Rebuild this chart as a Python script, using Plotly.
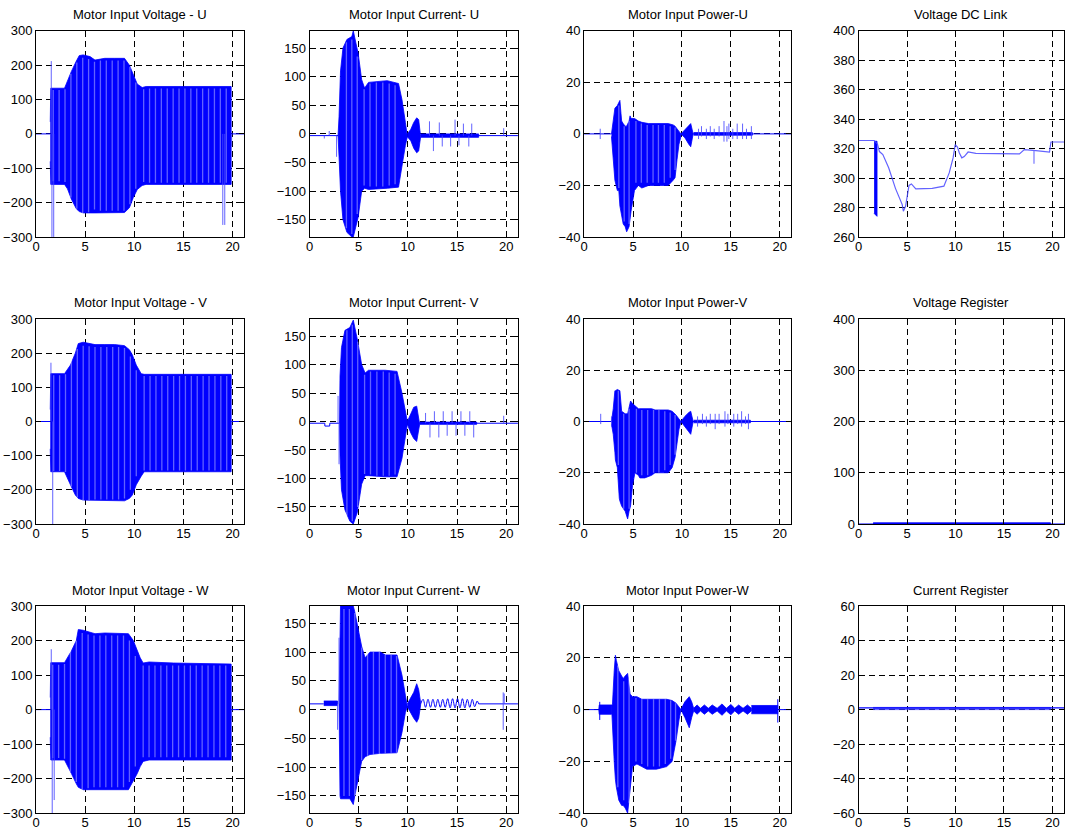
import plotly.graph_objects as go

W, H = 1067, 837
BLUE = "rgb(0,0,255)"
LIGHT = "rgba(70,70,255,0.85)"
GAPC = "rgba(255,255,255,0.38)"
FONT = "Liberation Sans, Arial, Helvetica, sans-serif"

# ---------------- panel meta ----------------
TITLES = ["Motor Input Voltage - U", "Motor Input Current- U", "Motor Input Power-U", "Voltage DC Link",
          "Motor Input Voltage - V", "Motor Input Current- V", "Motor Input Power-V", "Voltage Register",
          "Motor Input Voltage - W", "Motor Input Current- W", "Motor Input Power-W", "Current Register"]
X_RANGE = [0, 21.2]
X_TICKS = [0, 5, 10, 15, 20]
V_RANGE = [-300, 300]; V_TICKS = [-300, -200, -100, 0, 100, 200, 300]
I_RANGE = [-180, 180]; I_TICKS = [-150, -100, -50, 0, 50, 100, 150]
P_RANGE = [-40, 40];   P_TICKS = [-40, -20, 0, 20, 40]
DC_RANGE = [260, 400]; DC_TICKS = [260, 280, 300, 320, 340, 360, 380, 400]
VR_RANGE = [0, 400];   VR_TICKS = [0, 100, 200, 300, 400]
CR_RANGE = [-60, 60];  CR_TICKS = [-60, -40, -20, 0, 20, 40, 60]

# ---------------- Voltage U ----------------
VU_BASE_T = [0, 1.45, None, 19.85, 21.2]
VU_BASE_Y = [0, 0, None, 0, 0]
VU_T = [1.45, 1.5, 2.9, 3.2, 3.6, 4.1, 4.4, 4.8, 5.5, 6.0, 7.0, 8.0, 9.0, 9.5, 9.9, 10.3, 10.8, 11.2, 15.0, 19.85]
VU_HI = [35, 133, 133, 155, 182, 212, 228, 230, 225, 215, 220, 220, 220, 200, 170, 145, 135, 138, 138, 138]
VU_LO = [-80, -147, -147, -160, -190, -218, -226, -230, -230, -230, -230, -230, -229, -215, -185, -162, -150, -147, -147, -147]
VU_SPK_T = [1.55, 1.62, 1.8, 19.0, 19.2, 19.9]
VU_SPK_LO = [0, -300, -300, -265, -265, -35]
VU_SPK_HI = [212, 0, 0, 0, 0, 0]
VU_GAP_T = [1.75, 2.35, 2.95, 3.55, 4.15, 4.75, 5.35, 5.95, 6.55, 7.15, 7.75, 8.35, 8.95, 9.55, 10.15,
            10.95, 11.55, 12.15, 12.75, 13.35, 13.95, 14.55, 15.15, 15.75, 16.35, 16.95, 17.55, 18.15, 18.75, 19.35]
VU_GAP_H = [128, 128, 130, 175, 208, 222, 218, 210, 214, 214, 214, 214, 214, 195, 150,
            130, 132, 132, 132, 132, 132, 132, 132, 132, 132, 132, 132, 132, 132, 132]

# ---------------- Voltage V ----------------
VV_BASE_T = [0, 1.45, None, 19.85, 21.2]
VV_BASE_Y = [0, 0, None, 0, 0]
VV_T = [1.45, 1.5, 2.9, 3.5, 4.0, 4.3, 4.8, 5.5, 6.0, 7.0, 8.0, 9.0, 9.5, 9.8, 10.2, 10.7, 11.0, 13.0, 19.85]
VV_HI = [35, 140, 140, 165, 200, 228, 232, 228, 225, 225, 225, 222, 210, 195, 165, 140, 138, 138, 138]
VV_LO = [-80, -147, -147, -185, -215, -225, -230, -230, -230, -230, -232, -232, -225, -215, -185, -160, -147, -147, -147]
VV_SPK_T = [1.52, 1.7, 19.9]
VV_SPK_LO = [0, -300, -28]
VV_SPK_HI = [172, 0, 0]
VV_GAP_T = [1.8, 2.4, 3.0, 3.6, 4.2, 4.8, 5.4, 6.0, 6.6, 7.2, 7.8, 8.4, 9.0, 9.6, 10.2,
            11.0, 11.6, 12.2, 12.8, 13.4, 14.0, 14.6, 15.2, 15.8, 16.4, 17.0, 17.6, 18.2, 18.8, 19.4]
VV_GAP_H = [135, 135, 138, 180, 212, 222, 220, 218, 218, 218, 218, 218, 215, 190, 150,
            133, 133, 133, 133, 133, 133, 133, 133, 133, 133, 133, 133, 133, 133, 133]

# ---------------- Voltage W ----------------
VW_BASE_T = [0, 1.45, None, 19.85, 21.2]
VW_BASE_Y = [0, 0, None, 0, 0]
VW_T = [1.45, 1.5, 2.9, 3.6, 4.1, 4.3, 4.8, 6.0, 7.0, 8.0, 9.0, 9.4, 9.9, 10.3, 10.6, 10.9, 11.5, 14.0, 19.85]
VW_HI = [35, 136, 136, 170, 200, 232, 230, 220, 222, 222, 222, 220, 200, 170, 150, 135, 138, 135, 132]
VW_LO = [-80, -146, -146, -185, -215, -225, -232, -232, -232, -232, -232, -232, -205, -185, -165, -150, -146, -146, -146]
VW_SPK_T = [1.55, 1.65, 1.85, 19.9]
VW_SPK_LO = [0, -300, -262, -30]
VW_SPK_HI = [175, 0, 0, 0]
VW_GAP_T = [1.7, 2.3, 2.9, 3.5, 4.1, 4.7, 5.3, 5.9, 6.5, 7.1, 7.7, 8.3, 8.9, 9.5, 10.1,
            10.9, 11.5, 12.1, 12.7, 13.3, 13.9, 14.5, 15.1, 15.7, 16.3, 16.9, 17.5, 18.1, 18.7, 19.3]
VW_GAP_H = [130, 130, 132, 170, 200, 222, 218, 215, 215, 215, 215, 215, 215, 200, 155,
            128, 128, 128, 128, 128, 128, 128, 128, 128, 128, 128, 128, 128, 128, 128]

# ---------------- Current U ----------------
IU_BASE_T = [0, 2.9, None, 11.3, 21.2]
IU_BASE_Y = [-3, -3, None, -3, -3]
IU_T = [2.9, 3.0, 3.15, 3.4, 3.8, 4.3, 4.45, 4.95, 5.3, 5.6, 6.0, 7.9, 9.05, 9.4, 9.75, 9.95]
IU_HI = [-3, 30, 110, 150, 165, 170, 180, 140, 95, 80, 90, 93, 88, 60, 20, 0]
IU_LO = [-3, -40, -100, -150, -172, -180, -180, -145, -100, -95, -97, -95, -93, -60, -20, -5]
IU_B_T = [9.95, 10.3, 10.6, 10.9, 11.1, 11.3]
IU_B_HI = [0, 8, 20, 28, 25, -2]
IU_B_LO = [-5, -12, -25, -33, -30, -5]
IU_N_T = [11.3, 17.2]
IU_N_HI = [0, 0]
IU_N_LO = [-6, -6]
IU_SPK_T = [1.5, 2.0, 2.75, 12.2, 12.6, 13.2, 13.5, 14.35, 14.8, 15.2, 15.65, 16.2, 16.5, 19.75]
IU_SPK_LO = [-8, -3, -40, -3, -30, -3, -22, -22, -3, -20, -3, -22, -3, -3]
IU_SPK_HI = [-3, 5, -3, 22, -3, 20, -3, -3, 25, -3, 18, -3, 18, 10]
IU_GAP_T = [3.75, 4.3, 4.85, 5.55, 6.15, 6.8, 7.45, 8.1, 8.7]
IU_GAP_LO = [-165, -175, -140, -90, -92, -92, -92, -90, -88]
IU_GAP_HI = [160, 165, 135, 78, 88, 90, 90, 88, 85]

# ---------------- Current V ----------------
IV_BASE_T = [0, 1.55, 1.56, 2.05, 2.06, 3.05, None, 11.2, 21.2]
IV_BASE_Y = [-3, -3, -8, -8, -3, -3, None, -3, -3]
IV_T = [3.05, 3.1, 3.25, 3.6, 4.1, 4.45, 4.85, 5.3, 5.65, 6.0, 7.7, 8.9, 9.4, 9.75, 9.95]
IV_HI = [-3, 80, 130, 160, 165, 178, 145, 100, 85, 90, 90, 88, 50, 20, 0]
IV_LO = [-3, -60, -120, -155, -175, -180, -160, -110, -95, -95, -97, -97, -65, -25, -5]
IV_B_T = [9.95, 10.3, 10.6, 10.9, 11.2]
IV_B_HI = [0, 15, 25, 27, -2]
IV_B_LO = [-5, -20, -30, -35, -5]
IV_N_T = [11.2, 17.0]
IV_N_HI = [-1, -1]
IV_N_LO = [-5, -5]
IV_SPK_T = [2.9, 3.0, 11.8, 12.25, 12.7, 13.15, 13.6, 14.0, 14.5, 14.9, 15.4, 15.8, 16.3, 16.7, 19.75]
IV_SPK_LO = [-3, -75, -3, -28, -3, -28, -3, -25, -3, -25, -3, -25, -3, -28, -3]
IV_SPK_HI = [45, -3, 15, -3, 18, -3, 18, -3, 18, -3, 18, -3, 18, -3, 10]
IV_GAP_T = [3.8, 4.35, 4.9, 5.6, 6.2, 6.85, 7.5, 8.1, 8.7]
IV_GAP_LO = [-165, -175, -150, -92, -93, -95, -95, -95, -93]
IV_GAP_HI = [160, 170, 140, 82, 88, 88, 88, 86, 84]

# ---------------- Current W ----------------
IW_BASE_T = [0, 1.45, None, 17.2, 21.2]
IW_BASE_Y = [10, 10, None, 10, 10]
IW_PRE_T = [1.45, 2.85]
IW_PRE_HI = [15, 15]
IW_PRE_LO = [7, 7]
IW_T = [3.0, 3.1, 3.15, 4.1, 4.45, 4.6, 4.85, 5.3, 5.65, 6.15, 7.2, 7.7, 8.9, 9.4, 9.75, 9.95]
IW_HI = [10, 130, 180, 180, 180, 170, 150, 110, 90, 100, 100, 95, 95, 60, 25, 10]
IW_LO = [10, -150, -155, -155, -165, -150, -125, -90, -82, -78, -76, -75, -75, -40, -5, 5]
IW_B_T = [9.95, 10.3, 10.6, 10.9, 11.1, 11.3]
IW_B_HI = [10, 20, 30, 45, 35, 12]
IW_B_LO = [5, -5, -15, -22, -15, 8]
IW_RIP_T = [11.3, 11.55, 11.8, 12.05, 12.3, 12.55, 12.8, 13.05, 13.3, 13.55, 13.8, 14.05, 14.3,
            14.55, 14.8, 15.05, 15.3, 15.55, 15.8, 16.05, 16.3, 16.55, 16.8, 17.05, 17.2]
IW_RIP_Y = [10, 18, 4, 18, 4, 18, 4, 18, 4, 18, 4, 19, 3, 19, 3, 19, 3, 19, 3, 18, 4, 18, 5, 15, 10]
IW_SPK_T = [2.85, 3.0, 19.7, 19.8]
IW_SPK_LO = [-35, 10, -35, 10]
IW_SPK_HI = [10, 125, 30, 28]
IW_GAP_T = [3.5, 4.05, 4.6, 5.3, 5.9, 6.5, 7.1, 7.7, 8.3, 8.85]
IW_GAP_LO = [-150, -150, -150, -88, -80, -78, -77, -76, -75, -75]
IW_GAP_HI = [175, 175, 168, 108, 98, 100, 100, 95, 95, 93]

# ---------------- Power U ----------------
PU_BASE_T = [0, 2.8, None, 9.9, 21.2]
PU_BASE_Y = [0, 0, None, 0, 0]
PU_T = [2.8, 2.98, 3.15, 3.4, 3.55, 3.66, 3.77, 3.84, 4.0, 4.2, 4.35, 4.6, 4.7, 4.8, 5.15, 5.55,
        5.9, 6.6, 8.6, 9.1, 9.3, 9.5, 9.7, 9.9]
PU_HI = [0, 5, 10, 11, 12, 13, 8, 5, 4, 3, 3, 5, 7, 6, 6, 5, 4.5, 4, 4, 3.5, 3, 2, 1, 0]
PU_LO = [-1, -10, -18, -22, -22, -28, -30, -32, -35, -36, -38, -36, -33, -30, -22, -20, -21, -20,
         -20, -18, -17, -10, -4, -1]
PU_B_T = [9.9, 10.3, 10.7, 10.9, 11.15]
PU_B_HI = [0, 1.5, 3, 4, 0]
PU_B_LO = [0, -1.5, -4, -5, 0]
PU_N_T = [11.2, 17.2]
PU_N_HI = [0.5, 0.5]
PU_N_LO = [-0.5, -0.5]
PU_SPK_T = [1.65, 11.7, 12.0, 12.5, 12.9, 13.3, 13.8, 14.3, 14.6, 14.8, 15.2, 15.65, 16.2, 16.6, 17.1]
PU_SPK_LO = [-2, -2, -1, -2, -1, -2, -1, -3, -3, -2, -2, -2, -2, -2, -2]
PU_SPK_HI = [2, 2, 3, 2, 3, 2, 3, 5, 3, 4, 2, 4, 4, 2, 3]
PU_GAP_T = [3.55, 4.1, 4.6, 5.3, 5.85, 6.45, 7.05, 7.6, 8.2, 8.8, 9.3]
PU_GAP_LO = [-21, -34, -35, -19, -19, -19, -19, -19, -19, -17, -14]
PU_GAP_HI = [11, 3, 5, 5, 4, 3.5, 3.5, 3.5, 3.5, 3, 2.5]

# ---------------- Power V ----------------
PV_BASE_T = [0, 2.8, None, 9.9, 21.2]
PV_BASE_Y = [0, 0, None, 0, 0]
PV_T = [2.8, 2.98, 3.15, 3.2, 3.4, 3.6, 3.66, 3.84, 4.2, 4.45, 4.6, 4.75, 4.95, 5.2, 5.55, 5.7,
        6.2, 6.9, 7.25, 8.6, 9.0, 9.3, 9.4, 9.7, 9.9]
PV_HI = [0, 5, 12, 12, 12.5, 12, 12, 4, 3, 3, 6, 8, 7, 6, 5, 5, 5, 5, 4.5, 4.5, 4, 3, 2.5, 1, 0]
PV_LO = [-1, -5, -12, -15, -18, -30, -31, -33, -35, -38, -35, -33, -25, -20, -21, -22, -22, -21,
         -20, -20, -18, -14, -10, -3, 0]
PV_B_T = [9.9, 10.3, 10.7, 10.9, 11.15]
PV_B_HI = [0, 2, 3.5, 4, 0]
PV_B_LO = [0, -2, -4, -5, 0]
PV_N_T = [11.2, 17.0]
PV_N_HI = [0.5, 0.5]
PV_N_LO = [-0.5, -0.5]
PV_SPK_T = [1.7, 2.8, 11.6, 12.1, 12.5, 12.9, 13.4, 13.8, 14.4, 14.7, 15.3, 15.7, 16.1, 16.5, 16.8]
PV_SPK_LO = [-1, -2, -2, -1, -2, -1, -3, -1, -2, -1, -2, -1, -2, -1, -3]
PV_SPK_HI = [3, 2, 2, 3, 2, 3, 3, 3, 4, 3, 3, 3, 4, 2, 3]
PV_GAP_T = [3.5, 4.05, 4.6, 5.35, 5.9, 6.5, 7.1, 7.65, 8.25, 8.8, 9.3]
PV_GAP_LO = [-17, -34, -34, -20, -21, -21, -20, -20, -19, -17, -13]
PV_GAP_HI = [12, 3, 5, 5, 4.5, 4.5, 4.5, 4.5, 4, 3.5, 2.5]

# ---------------- Power W ----------------
PW_BASE_T = [0, 1.5, None, 19.85, 21.2]
PW_BASE_Y = [0, 0, None, 0, 0]
PW_PRE_T = [1.5, 1.55, 2.85]
PW_PRE_HI = [0, 1.8, 1.8]
PW_PRE_LO = [0, -1.8, -1.8]
PW_T = [2.85, 2.9, 3.08, 3.2, 3.3, 3.55, 3.84, 4.0, 4.2, 4.45, 4.7, 4.95, 5.4, 5.9, 6.4, 7.4, 8.45,
        9.0, 9.4, 9.7, 9.9]
PW_HI = [2, 2, 15, 21, 19, 15, 13, 12, 13, 14, 6, 5, 5, 4, 4, 4, 4, 3.5, 2.5, 1, 0]
PW_LO = [-2, -3, -20, -27, -30, -35, -37, -37, -38, -40, -30, -22, -21, -22, -23, -23, -22, -20,
         -12, -4, 0]
PW_B_T = [9.9, 10.3, 10.75, 11.0, 11.2]
PW_B_HI = [0, 3, 5, 3, 0.5]
PW_B_LO = [0, -3, -7, -3, -0.5]
PW_BD_T = [11.2, 11.55, 11.9, 12.3, 12.7, 13.1, 13.6, 14.1, 14.55, 15.0, 15.4, 15.8, 16.25, 16.7, 17.1]
PW_BD_HI = [0.5, 1.8, 0.5, 1.8, 0.5, 1.8, 0.5, 2.2, 0.5, 2.0, 0.5, 1.8, 0.5, 1.8, 0.5]
PW_BD_LO = [-0.5, -1.8, -0.5, -1.8, -0.5, -1.8, -0.5, -2.2, -0.5, -2.0, -0.5, -1.8, -0.5, -1.8, -0.5]
PW_TAIL_T = [17.1, 19.8]
PW_TAIL_HI = [1.6, 1.6]
PW_TAIL_LO = [-1.6, -1.6]
PW_SPK_T = [1.6, 19.8]
PW_SPK_LO = [-4, -5]
PW_SPK_HI = [3, 4]
PW_GAP_T = [3.45, 4.05, 4.6, 5.3, 5.9, 6.5, 7.1, 7.7, 8.3, 8.85, 9.35]
PW_GAP_LO = [-30, -35, -36, -20, -21, -22, -22, -22, -21, -19, -12]
PW_GAP_HI = [17, 11, 12, 4.5, 4, 4, 4, 4, 4, 3.5, 2.5]

# ---------------- DC link ----------------
DC_T = [0, 1.6, 1.95, 2.15, 2.5, 3.1, 3.8, 4.5, 4.62, 4.85, 5.2, 5.45, 5.9, 7.6, 8.8, 9.35, 9.75,
        9.97, 10.2, 10.4, 10.65, 10.9, 11.3, 12.1, 16.6, 17.1, 18.3, 19.7, 19.85, 21.2]
DC_Y = [325.5, 325.5, 323, 318, 316, 307, 293, 282, 277.5, 281, 295, 296, 292.6, 293, 294.5, 303.5,
        313.7, 322.7, 321, 317, 313.7, 314.6, 317.7, 316.8, 316.4, 319.3, 318.6, 317.7, 324.5, 324.5]
DC_BAR_T = [1.6, 1.9]
DC_BAR_HI = [325, 325]
DC_BAR_LO = [276, 274]
DC_SPK_T = [18.1]
DC_SPK_LO = [309.8]
DC_SPK_HI = [318.5]

# ---------------- Registers ----------------
VR_T = [0, 21.2]
VR_Y = [0, 0]
VR_N_T = [1.5, 19.8]
VR_N_HI = [2.5, 2.5]
VR_N_LO = [0, 0]
CR_T = [0, 21.2]
CR_Y = [1, 1]
CR_N_T = [1.5, 19.8]
CR_N_HI = [1.3, 1.3]
CR_N_LO = [0, 0]

# ---------------- layout geometry (target picture pixels) ----------------
COL_PX = [(36, 244), (309, 517), (583, 790), (857, 1062)]
ROW_PX = [(30, 236), (318, 523), (605, 812)]
# measured mapping page-pixel -> photographed-pixel (p = s * page + o)
SX, OX = 0.9943, 4.05
SY, OY = 0.9817, 6.15

fig = go.Figure()


def ax(i):
    return ("x" if i == 0 else f"x{i+1}"), ("y" if i == 0 else f"y{i+1}")


def add_line(i, t, y, color=BLUE, width=1.0, shape="linear"):
    xa, ya = ax(i)
    fig.add_trace(go.Scatter(x=t, y=y, mode="lines", line=dict(color=color, width=width, shape=shape),
                             xaxis=xa, yaxis=ya, hoverinfo="skip", connectgaps=False))


def add_band(i, t, hi, lo, color=BLUE):
    xa, ya = ax(i)
    x = list(t) + list(t)[::-1]
    y = list(hi) + list(lo)[::-1]
    fig.add_trace(go.Scatter(x=x, y=y, mode="lines", fill="toself", fillcolor=color,
                             line=dict(color=color, width=0.8), xaxis=xa, yaxis=ya, hoverinfo="skip"))


def add_spikes(i, t, lo, hi, color=BLUE, width=1.0):
    xa, ya = ax(i)
    xs, ys = [], []
    for tt, a, b in zip(t, lo, hi):
        xs += [tt, tt, None]
        ys += [a, b, None]
    fig.add_trace(go.Scatter(x=xs, y=ys, mode="lines", line=dict(color=color, width=width),
                             xaxis=xa, yaxis=ya, hoverinfo="skip"))


def add_gaps(i, t, lo, hi):
    add_spikes(i, t, lo, hi, color=GAPC, width=1.3)


# Voltage panels
for i, (bt, by, T, HI, LO, st, slo, shi, gt, gh) in {
    0: (VU_BASE_T, VU_BASE_Y, VU_T, VU_HI, VU_LO, VU_SPK_T, VU_SPK_LO, VU_SPK_HI, VU_GAP_T, VU_GAP_H),
    4: (VV_BASE_T, VV_BASE_Y, VV_T, VV_HI, VV_LO, VV_SPK_T, VV_SPK_LO, VV_SPK_HI, VV_GAP_T, VV_GAP_H),
    8: (VW_BASE_T, VW_BASE_Y, VW_T, VW_HI, VW_LO, VW_SPK_T, VW_SPK_LO, VW_SPK_HI, VW_GAP_T, VW_GAP_H),
}.items():
    add_line(i, bt, by)
    add_band(i, T, HI, LO)
    add_gaps(i, gt, [-h - 10 for h in gh], gh)
    add_spikes(i, st, slo, shi, color=LIGHT)

# Current U
add_line(1, IU_BASE_T, IU_BASE_Y)
add_band(1, IU_N_T, IU_N_HI, IU_N_LO)
add_band(1, IU_T, IU_HI, IU_LO)
add_band(1, IU_B_T, IU_B_HI, IU_B_LO)
add_gaps(1, IU_GAP_T, IU_GAP_LO, IU_GAP_HI)
add_spikes(1, IU_SPK_T, IU_SPK_LO, IU_SPK_HI, color=LIGHT)

# Current V
add_line(5, IV_BASE_T, IV_BASE_Y)
add_band(5, IV_N_T, IV_N_HI, IV_N_LO)
add_band(5, IV_T, IV_HI, IV_LO)
add_band(5, IV_B_T, IV_B_HI, IV_B_LO)
add_gaps(5, IV_GAP_T, IV_GAP_LO, IV_GAP_HI)
add_spikes(5, IV_SPK_T, IV_SPK_LO, IV_SPK_HI, color=LIGHT)

# Current W
add_line(9, IW_BASE_T, IW_BASE_Y)
add_band(9, IW_PRE_T, IW_PRE_HI, IW_PRE_LO)
add_band(9, IW_T, IW_HI, IW_LO)
add_band(9, IW_B_T, IW_B_HI, IW_B_LO)
add_line(9, IW_RIP_T, IW_RIP_Y, shape="spline")
add_gaps(9, IW_GAP_T, IW_GAP_LO, IW_GAP_HI)
add_spikes(9, IW_SPK_T, IW_SPK_LO, IW_SPK_HI, color=LIGHT)

# Power U
add_line(2, PU_BASE_T, PU_BASE_Y)
add_band(2, PU_N_T, PU_N_HI, PU_N_LO)
add_band(2, PU_T, PU_HI, PU_LO)
add_band(2, PU_B_T, PU_B_HI, PU_B_LO)
add_gaps(2, PU_GAP_T, PU_GAP_LO, PU_GAP_HI)
add_spikes(2, PU_SPK_T, PU_SPK_LO, PU_SPK_HI, color=LIGHT)

# Power V
add_line(6, PV_BASE_T, PV_BASE_Y)
add_band(6, PV_N_T, PV_N_HI, PV_N_LO)
add_band(6, PV_T, PV_HI, PV_LO)
add_band(6, PV_B_T, PV_B_HI, PV_B_LO)
add_gaps(6, PV_GAP_T, PV_GAP_LO, PV_GAP_HI)
add_spikes(6, PV_SPK_T, PV_SPK_LO, PV_SPK_HI, color=LIGHT)

# Power W
add_line(10, PW_BASE_T, PW_BASE_Y)
add_band(10, PW_PRE_T, PW_PRE_HI, PW_PRE_LO)
add_band(10, PW_T, PW_HI, PW_LO)
add_band(10, PW_B_T, PW_B_HI, PW_B_LO)
add_band(10, PW_BD_T, PW_BD_HI, PW_BD_LO)
add_band(10, PW_TAIL_T, PW_TAIL_HI, PW_TAIL_LO)
add_gaps(10, PW_GAP_T, PW_GAP_LO, PW_GAP_HI)
add_spikes(10, PW_SPK_T, PW_SPK_LO, PW_SPK_HI)

# DC link
add_band(3, DC_BAR_T, DC_BAR_HI, DC_BAR_LO)
add_line(3, DC_T, DC_Y, color=LIGHT, width=1.2)
add_spikes(3, DC_SPK_T, DC_SPK_LO, DC_SPK_HI, color="rgba(120,120,255,0.8)", width=1.5)

# Registers
add_band(7, VR_N_T, VR_N_HI, VR_N_LO)
add_line(7, VR_T, VR_Y, width=1.2)
add_band(11, CR_N_T, CR_N_HI, CR_N_LO, color="rgba(60,60,255,0.8)")
add_line(11, CR_T, CR_Y, width=1.2)

Y_SPECS = [(V_RANGE, V_TICKS), (I_RANGE, I_TICKS), (P_RANGE, P_TICKS), (DC_RANGE, DC_TICKS),
           (V_RANGE, V_TICKS), (I_RANGE, I_TICKS), (P_RANGE, P_TICKS), (VR_RANGE, VR_TICKS),
           (V_RANGE, V_TICKS), (I_RANGE, I_TICKS), (P_RANGE, P_TICKS), (CR_RANGE, CR_TICKS)]

common = dict(showgrid=True, gridcolor="black", gridwidth=0.8, griddash="6px,4px",
              showline=True, linecolor="black", linewidth=1, mirror="ticks",
              ticks="inside", ticklen=5, tickcolor="black", tickwidth=1, zeroline=False,
              tickfont=dict(family=FONT, size=13, color="black"))


def clamp(v):
    return max(0.0, min(1.0, v))


def px_x(p):
    return clamp(((p - OX) / SX) / W)


def px_y(p):
    return clamp(1 - ((p - OY) / SY) / H)


layout = {}
annotations = []
for i in range(12):
    r, c = divmod(i, 4)
    x0, x1 = COL_PX[c]
    y0, y1 = ROW_PX[r]
    xa, ya = ax(i)
    xkey = "xaxis" if i == 0 else f"xaxis{i+1}"
    ykey = "yaxis" if i == 0 else f"yaxis{i+1}"
    yr, yt = Y_SPECS[i]
    layout[xkey] = dict(domain=[px_x(x0), px_x(x1)], anchor=ya, range=X_RANGE, tickvals=X_TICKS,
                        ticklabelstandoff=-3, **common)
    layout[ykey] = dict(domain=[px_y(y1), px_y(y0)], anchor=xa, range=yr, tickvals=yt, **common)
    annotations.append(dict(text=TITLES[i], xref="paper", yref="paper",
                            x=px_x((x0 + x1) / 2), y=px_y(y0 - 16),
                            xanchor="center", yanchor="middle",
                            showarrow=False, font=dict(family=FONT, size=13, color="black")))

fig.update_layout(**layout)
fig.update_layout(width=W, height=H, margin=dict(l=0, r=0, t=0, b=0), autosize=False,
                  paper_bgcolor="white", plot_bgcolor="white", showlegend=False,
                  annotations=annotations)

fig.write_html("out.html", config={"displayModeBar": False},
               post_script="document.body.style.margin='0';document.body.style.overflow='hidden';")
